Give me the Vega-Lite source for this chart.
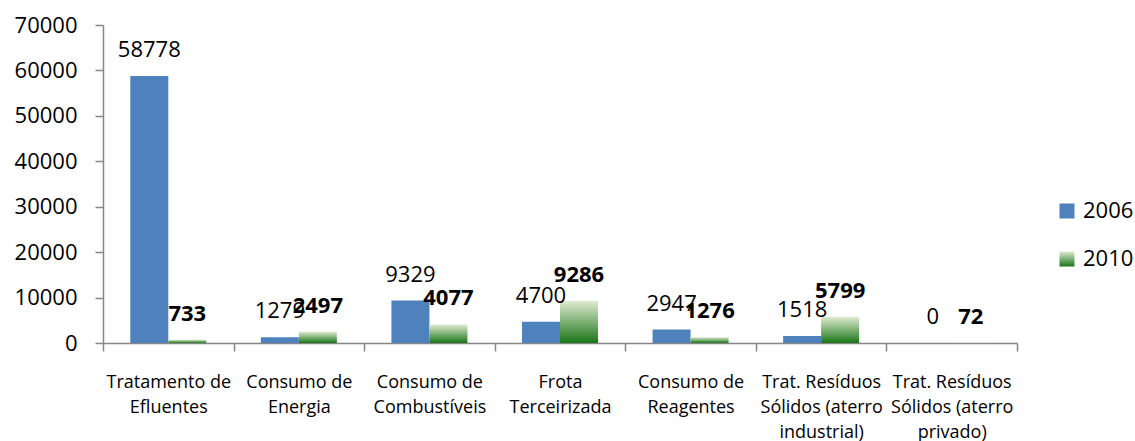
{
  "$schema": "https://vega.github.io/schema/vega-lite/v6.json",
  "width": 914,
  "height": 318,
  "autosize": {"type": "none"},
  "padding": {"left": 103, "top": 25, "right": 118, "bottom": 98},
  "background": "white",
  "config": {"view": {"stroke": null}, "font": "Open Sans"},
  "data": {
    "values": [
      {"category": "Tratamento de|Efluentes", "year": "2006", "value": 58778},
      {"category": "Tratamento de|Efluentes", "year": "2010", "value": 733},
      {"category": "Consumo de|Energia", "year": "2006", "value": 1279},
      {"category": "Consumo de|Energia", "year": "2010", "value": 2497},
      {"category": "Consumo de|Combustíveis", "year": "2006", "value": 9329},
      {"category": "Consumo de|Combustíveis", "year": "2010", "value": 4077},
      {"category": "Frota|Terceirizada", "year": "2006", "value": 4700},
      {"category": "Frota|Terceirizada", "year": "2010", "value": 9286},
      {"category": "Consumo de|Reagentes", "year": "2006", "value": 2947},
      {"category": "Consumo de|Reagentes", "year": "2010", "value": 1276},
      {"category": "Trat. Resíduos|Sólidos (aterro|industrial)", "year": "2006", "value": 1518},
      {"category": "Trat. Resíduos|Sólidos (aterro|industrial)", "year": "2010", "value": 5799},
      {"category": "Trat. Resíduos|Sólidos (aterro|privado)", "year": "2006", "value": 0},
      {"category": "Trat. Resíduos|Sólidos (aterro|privado)", "year": "2010", "value": 72}
    ]
  },
  "encoding": {
    "x": {
      "field": "category",
      "type": "nominal",
      "sort": null,
      "scale": {"paddingInner": 0, "paddingOuter": 0},
      "axis": {
        "title": null,
        "labelAngle": 0,
        "labelExpr": "datum.value ? split(datum.value, '|') : ''",
        "labelFontSize": 18,
        "labelLineHeight": 25,
        "labelColor": "#000000",
        "labelPadding": 22,
        "labelLimit": 0,
        "tickBand": "extent",
        "tickSize": 8,
        "tickColor": "#868686",
        "domainColor": "#868686",
        "domainWidth": 1.5,
        "tickWidth": 1.5
      }
    },
    "xOffset": {
      "field": "year",
      "type": "nominal",
      "scale": {"domain": ["2006", "2010"], "paddingInner": 0, "paddingOuter": 0.718}
    },
    "y": {
      "field": "value",
      "type": "quantitative",
      "scale": {"domain": [0, 70000], "nice": false},
      "axis": {
        "title": null,
        "values": [0, 10000, 20000, 30000, 40000, 50000, 60000, 70000],
        "format": "d",
        "grid": false,
        "labelFontSize": 22,
        "labelColor": "#000000",
        "labelPadding": 18,
        "tickSize": 8,
        "tickColor": "#868686",
        "domainColor": "#868686",
        "domainWidth": 1.5,
        "tickWidth": 1.5
      }
    }
  },
  "layer": [
    {
      "mark": {"type": "bar"},
      "encoding": {
        "color": {
          "field": "year",
          "type": "nominal",
          "scale": {
            "domain": ["2006", "2010"],
            "range": ["#4F81BD", {"expr": "{gradient: 'linear', x1: 0, y1: 0, x2: 0, y2: 1, stops: [{offset: 0, color: '#E0ECD2'}, {offset: 1, color: '#1A7518'}]}"}]
          },
          "legend": {
            "title": null,
            "orient": "none",
            "legendX": 953,
            "legendY": 175,
            "symbolType": "square",
            "symbolSize": 225,
            "symbolStrokeWidth": 0,
            "labelFontSize": 22,
            "labelColor": "#000000",
            "labelOffset": 5,
            "rowPadding": 26,
            "padding": 0
          }
        }
      }
    },
    {
      "transform": [{"filter": "datum.year === '2006'"}],
      "mark": {"type": "text", "baseline": "alphabetic", "dy": -19, "fontSize": 22, "color": "#000000"},
      "encoding": {"text": {"field": "value", "type": "quantitative", "format": "d"}}
    },
    {
      "transform": [{"filter": "datum.year === '2010'"}],
      "mark": {"type": "text", "baseline": "alphabetic", "dy": -19, "fontSize": 22, "fontWeight": "bold", "color": "#000000"},
      "encoding": {"text": {"field": "value", "type": "quantitative", "format": "d"}}
    }
  ]
}
